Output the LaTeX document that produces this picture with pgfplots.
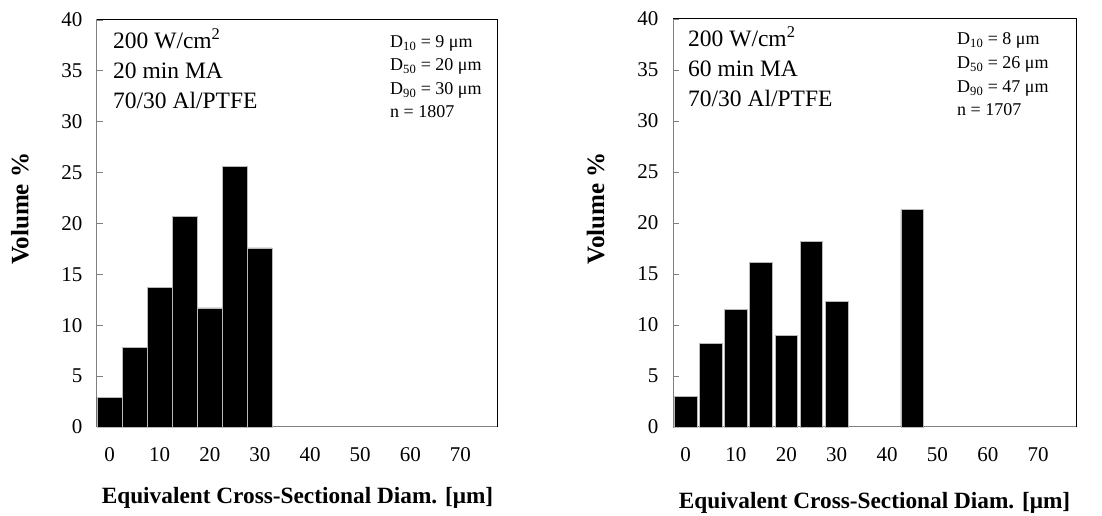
\documentclass[border=0pt]{standalone}
\usepackage{fontspec}
\setmainfont{Liberation Serif}
\usepackage{pgfplots}
\pgfplotsset{compat=1.18}
\pgfplotsset{
  hist/.style={
    scale only axis, anchor=south west, clip=false,
    ymin=0, ymax=40, xmin=-2.5, xmax=77.5,
    ytick={0,5,...,40}, xtick={0,10,...,70},
    ytick pos=left, xtick pos=bottom,
    tick align=inside,
    major tick length=6pt,
    ytick style={draw=gray, line width=0.8pt},
    xtick style={draw=none},
    axis line style={draw=gray, line width=1pt},
    tick label style={font=\fontsize{21}{21}\selectfont},
    /pgf/number format/assume math mode=true,
    xticklabel style={yshift=-17pt},
    yticklabel style={xshift=-11pt},
    ylabel={\textbf{Volume \%}},
    xlabel={\textbf{Equivalent Cross-Sectional Diam. [μm]}},
    xlabel style={font=\fontsize{23.3}{23.3}\selectfont},
    ylabel style={font=\fontsize{25}{25}\selectfont, at={(rel axis cs:-0.192,0.536)}, anchor=center},
  }
}
\begin{document}
\begin{tikzpicture}
\path[use as bounding box] (0pt,0pt) rectangle (1102pt,516pt);
\begin{axis}[hist, at={(97pt,89pt)}, width=401pt, height=407pt,
  xlabel style={at={(rel axis cs:0.5,-0.174)}, anchor=center}]
\addplot[ybar, bar width=5, fill=black, draw=gray!55, line width=0.8pt] coordinates {
(0,2.9) (5,7.8) (10,13.7) (15,20.7) (20,11.7) (25,25.6) (30,17.6)};
\draw[black, line width=1pt] (rel axis cs:0,1) -- (rel axis cs:1,1) -- (rel axis cs:1,0);
\end{axis}
\begin{axis}[hist, at={(673pt,89pt)}, width=403pt, height=408pt,
  xlabel style={at={(rel axis cs:0.5,-0.186)}, anchor=center}]
\addplot[ybar, bar width=4.5, fill=black, draw=gray!55, line width=0.8pt] coordinates {
(0,3.0) (5,8.2) (10,11.5) (15,16.1) (20,9.0) (25,18.2) (30,12.3) (45,21.3)};
\draw[black, line width=1pt] (rel axis cs:0,1) -- (rel axis cs:1,1) -- (rel axis cs:1,0);
\end{axis}
% annotations, left
\begin{scope}[every node/.style={anchor=base west, inner sep=0pt}]
\node[font=\fontsize{23.5}{23.5}\selectfont] at (113pt,467.7pt) {200 W/cm\textsuperscript{2}};
\node[font=\fontsize{23.5}{23.5}\selectfont] at (113pt,437.7pt) {20 min MA};
\node[font=\fontsize{23.5}{23.5}\selectfont] at (113pt,407.7pt) {70/30 Al/PTFE};
\node[font=\fontsize{18}{18}\selectfont] at (390pt,468.3pt) {D\textsubscript{10} = 9 μm};
\node[font=\fontsize{18}{18}\selectfont] at (390pt,445pt) {D\textsubscript{50} = 20 μm};
\node[font=\fontsize{18}{18}\selectfont] at (390pt,421pt) {D\textsubscript{90} = 30 μm};
\node[font=\fontsize{18}{18}\selectfont] at (390pt,398pt) {n = 1807};
% right
\node[font=\fontsize{23.5}{23.5}\selectfont] at (688pt,469.3pt) {200 W/cm\textsuperscript{2}};
\node[font=\fontsize{23.5}{23.5}\selectfont] at (688pt,439.3pt) {60 min MA};
\node[font=\fontsize{23.5}{23.5}\selectfont] at (688pt,409.3pt) {70/30 Al/PTFE};
\node[font=\fontsize{18}{18}\selectfont] at (957pt,471pt) {D\textsubscript{10} = 8 μm};
\node[font=\fontsize{18}{18}\selectfont] at (957pt,447pt) {D\textsubscript{50} = 26 μm};
\node[font=\fontsize{18}{18}\selectfont] at (957pt,423.3pt) {D\textsubscript{90} = 47 μm};
\node[font=\fontsize{18}{18}\selectfont] at (957pt,400pt) {n = 1707};
\end{scope}
\end{tikzpicture}
\end{document}
